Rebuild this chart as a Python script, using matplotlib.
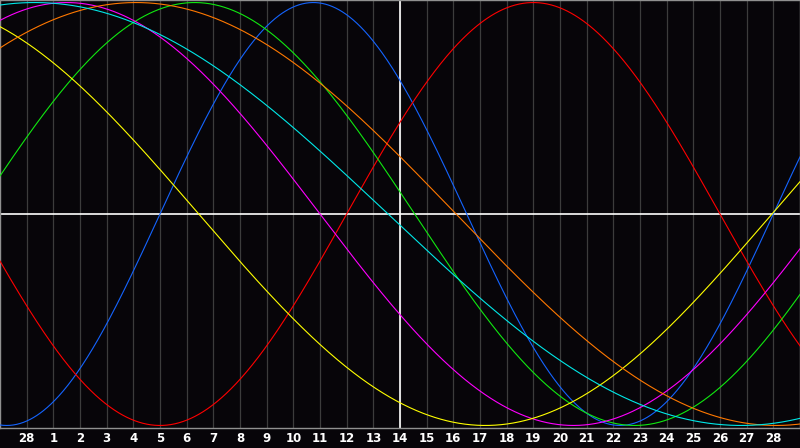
import numpy as np
import matplotlib
matplotlib.use('Agg')
import matplotlib.pyplot as plt

# Cycle lengths (days) and the grid position of each curve's peak
periods = [23, 28, 33, 38, 43, 48, 53]
peaks = [11.75, 20.0, 7.3, 2.5, -3.3, 5.1, 1.3]
colors = ['#1464ff', '#ff0000', '#10e810', '#ff00ff', '#ffff00', '#ff7800', '#00e8e8']

# Day labels under the grid lines (previous month's 28 first)
day_labels = ['28'] + [str(d) for d in range(1, 29)]

n_cols = 30
bg = '#070509'

fig = plt.figure(figsize=(8, 4.48), dpi=100, facecolor=bg)
ax = fig.add_axes([0, 20 / 448, 1, 428 / 448])
ax.set_facecolor(bg)

# grid
for k in range(1, n_cols):
    ax.axvline(k, color='#3c3c3c', lw=0.9, zorder=1)
ax.axvline(15, color='white', lw=1.2, zorder=2)
ax.axhline(0, color='white', lw=1.2, zorder=2)

u = np.linspace(0, n_cols, 1200)
for p, pk, c in zip(periods, peaks, colors):
    ax.plot(u, np.cos(2 * np.pi * (u - pk) / p), color=c, lw=0.8, zorder=3)

ax.set_xlim(0, n_cols)
ax.set_ylim(-1.012, 1.012)
ax.set_xticks(range(1, n_cols))
ax.set_xticklabels(day_labels, color='white', fontweight='bold', fontsize=8.5)
ax.tick_params(axis='x', length=0, pad=3)
ax.set_yticks([])
for s in ax.spines.values():
    s.set_color('#909090')
    s.set_linewidth(1)

fig.savefig('out.png', dpi=100, facecolor=bg)
